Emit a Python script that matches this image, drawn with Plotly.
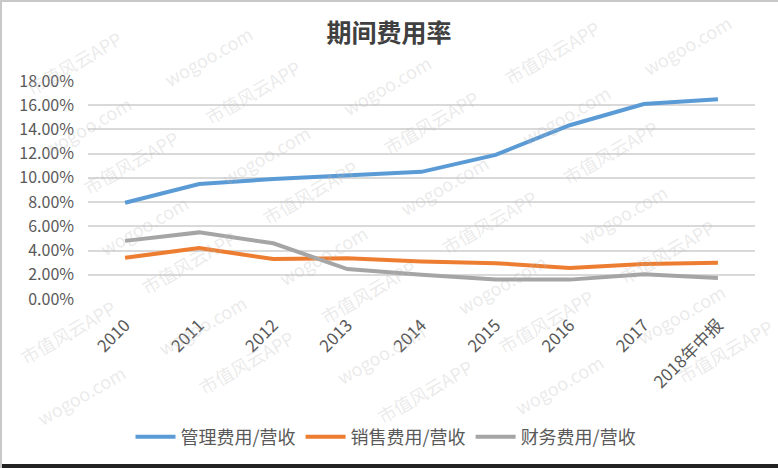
import math
import plotly.graph_objects as go

categories = ["2010", "2011", "2012", "2013", "2014", "2015", "2016", "2017", "2018年中报"]
mgmt = [0.0795, 0.095, 0.099, 0.102, 0.105, 0.119, 0.1435, 0.161, 0.165]
sales = [0.034, 0.042, 0.033, 0.0337, 0.031, 0.0296, 0.0255, 0.029, 0.030]
fin = [0.048, 0.055, 0.046, 0.0247, 0.020, 0.016, 0.016, 0.0205, 0.0173]
series_names = ["管理费用/营收", "销售费用/营收", "财务费用/营收"]
colors = ["#5B9BD5", "#ED7D31", "#A5A5A5"]
y_ticks = [i / 100 for i in range(0, 19, 2)]

W, H = 778, 468
ML, MR, MT, MB = 88, 23, 81, 169

fig = go.Figure()
for name, vals, c in zip(series_names, [mgmt, sales, fin], colors):
    fig.add_trace(go.Scatter(x=categories, y=vals, name=name, mode="lines",
                             line=dict(color=c, width=4)))

font_fam = "Noto Sans CJK SC, Noto Sans, sans-serif"

pw = W - ML - MR
ph = H - MT - MB
def px(xp):
    return (xp - ML) / pw
def py(yp):
    return 1 - (yp - MT) / ph

# watermark lattice (only fully visible copies, away from the legend row)
annotations = []
ang = math.radians(30)
u = (math.cos(ang), -math.sin(ang))
n = (math.sin(ang), math.cos(ang))
for i in range(-8, 9):
    for j in range(-6, 7):
        for txt, du, dn in [("市值风云APP", 0, 0), ("wogoo.com", -20, 61)]:
            cx = 310 + (i * 140 + du) * u[0] + (j * 115 + dn) * n[0]
            cy = 192 + (i * 140 + du) * u[1] + (j * 115 + dn) * n[1]
            if 50 < cx < W - 50 and 32 < cy < H - 34 and not (400 < cy < 470):
                annotations.append(dict(
                    x=px(cx), y=py(cy), xref="paper", yref="paper", text=txt,
                    showarrow=False, textangle=-30,
                    font=dict(size=18, color="rgba(185,185,185,0.30)", family=font_fam),
                    xanchor="center", yanchor="middle"))

shapes = [
    dict(type="rect", xref="paper", yref="paper", x0=px(0), x1=px(W), y0=py(H - 4), y1=py(H),
         fillcolor="#222222", line=dict(width=0), layer="above"),
    dict(type="line", xref="paper", yref="paper", x0=px(0), x1=px(W), y0=py(1), y1=py(1),
         line=dict(color="#c8c8c8", width=2)),
    dict(type="line", xref="paper", yref="paper", x0=px(1), x1=px(1), y0=py(0), y1=py(H),
         line=dict(color="#c8c8c8", width=2)),
]

fig.update_layout(
    width=W, height=H,
    margin=dict(l=ML, r=MR, t=MT, b=MB),
    paper_bgcolor="white", plot_bgcolor="white",
    title=dict(text="<b>期间费用率</b>", x=(389 / W), xanchor="center", y=1 - 33 / H,
               yanchor="middle", font=dict(size=25, color="#404040", family=font_fam)),
    xaxis=dict(tickangle=-45, tickfont=dict(size=17, color="#595959", family=font_fam),
               range=[-0.5, len(categories) - 0.5], ticklabelstandoff=12,
               showgrid=False, showline=False, ticks="", ticklen=0),
    yaxis=dict(range=[0, 0.18], tickvals=y_ticks, tickformat=".2%",
               tickfont=dict(size=16, color="#595959", family=font_fam),
               showgrid=True, gridcolor="#D9D9D9", gridwidth=2, zeroline=False,
               showline=False, ticks="", ticklabelstandoff=13),
    legend=dict(orientation="h", x=px(386), xanchor="center", y=py(437), yanchor="middle",
                font=dict(size=18, color="#595959", family=font_fam),
                itemwidth=40, tracegroupgap=0),
    annotations=annotations,
    shapes=shapes,
)

fig.write_html("out.html")
